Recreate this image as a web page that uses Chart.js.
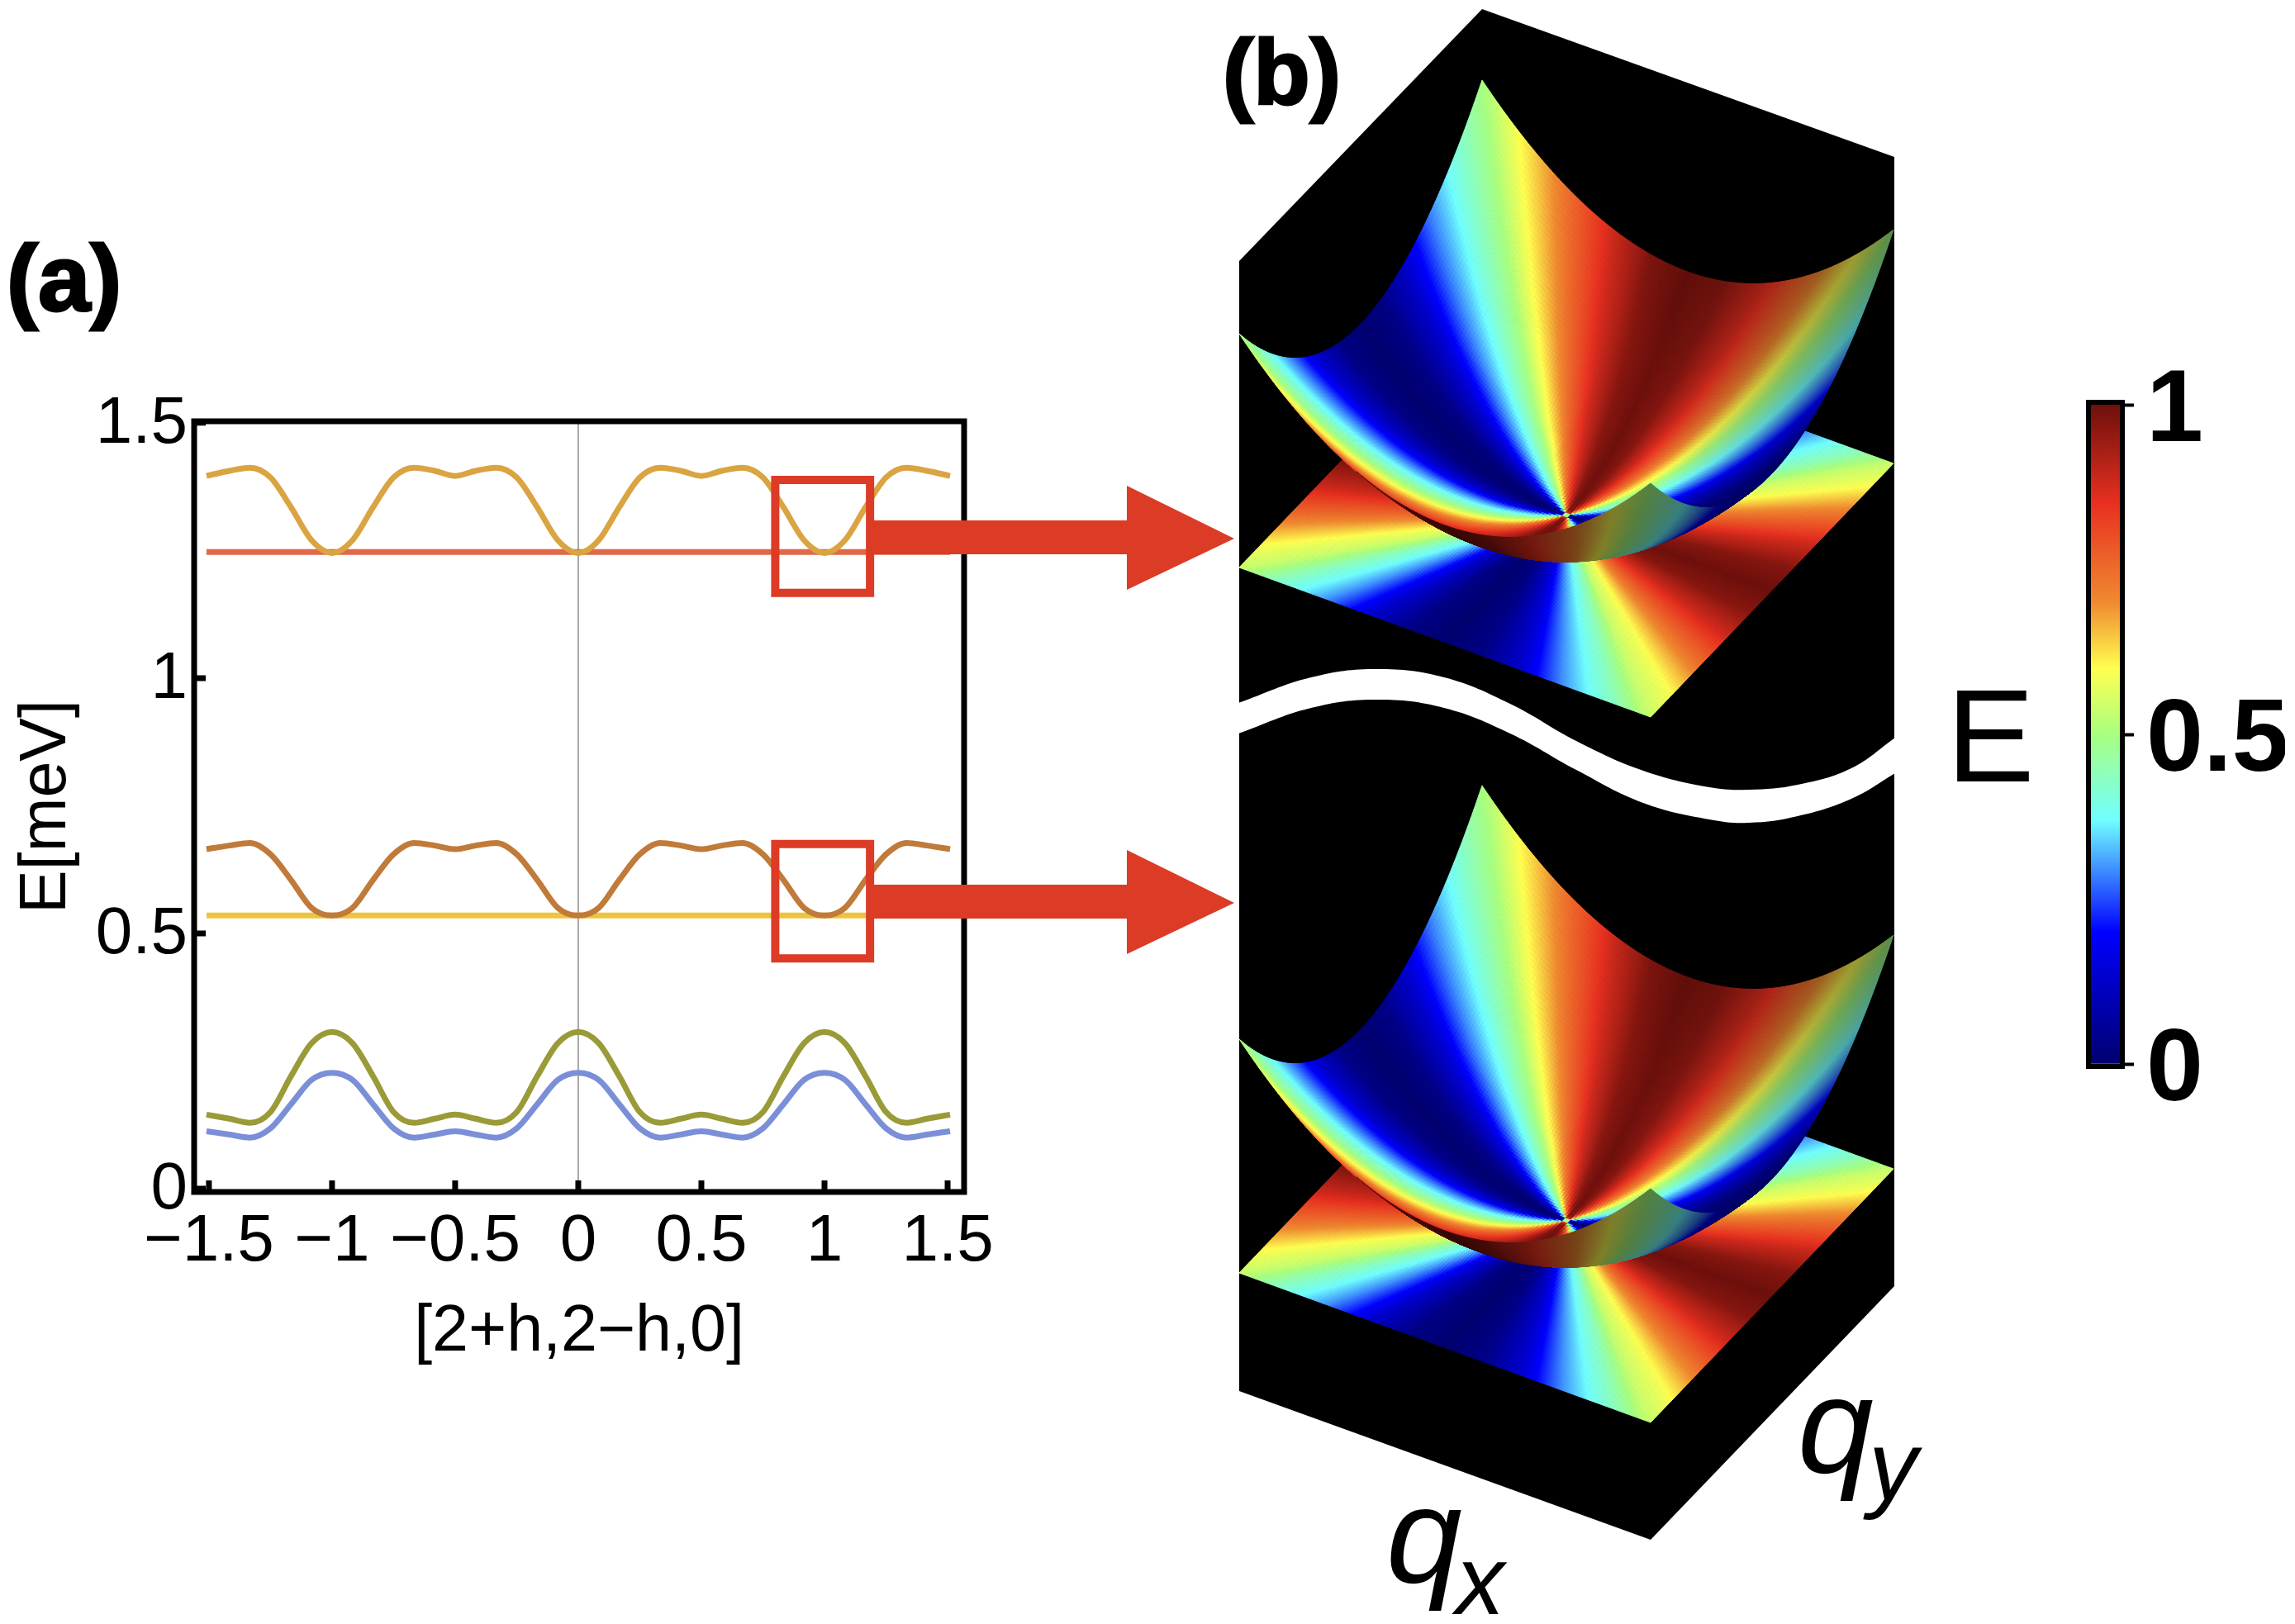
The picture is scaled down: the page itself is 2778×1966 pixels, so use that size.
<!DOCTYPE html>
<html>
<head>
<meta charset="utf-8">
<title>Band dispersion and colour map</title>
<script src="https://cdn.jsdelivr.net/npm/chart.js@4"></script>
<style>
  html, body { margin: 0; padding: 0; background: #fff; overflow: hidden; }
  canvas { position: absolute; left: 0; top: 0; }
</style>
</head>
<body>
<canvas id="panelA" width="2778" height="1966"></canvas>
<canvas id="colorBar" width="2778" height="1966"></canvas>
<canvas id="panelB" width="2778" height="1966"></canvas>
<script>
// panel (a) data
const hValues = [-1.51, -1.417, -1.333, -1.25, -1.167, -1.083, -1, -0.917, -0.833, -0.75, -0.667, -0.583, -0.5,
  -0.417, -0.333, -0.25, -0.167, -0.083, 0, 0.083, 0.167, 0.25, 0.333, 0.417, 0.5,
  0.583, 0.667, 0.75, 0.833, 0.917, 1, 1.083, 1.167, 1.25, 1.333, 1.417, 1.51];
const upperDispersive = [1.396, 1.406, 1.412, 1.393, 1.335, 1.27, 1.245, 1.27, 1.335, 1.393, 1.412, 1.406, 1.396,
  1.406, 1.412, 1.393, 1.335, 1.27, 1.245, 1.27, 1.335, 1.393, 1.412, 1.406, 1.396,
  1.406, 1.412, 1.393, 1.335, 1.27, 1.245, 1.27, 1.335, 1.393, 1.412, 1.406, 1.396];
const upperFlat = [1.247, 1.247, 1.247, 1.247, 1.247, 1.247, 1.247, 1.247, 1.247, 1.247, 1.247, 1.247, 1.247,
  1.247, 1.247, 1.247, 1.247, 1.247, 1.247, 1.247, 1.247, 1.247, 1.247, 1.247, 1.247,
  1.247, 1.247, 1.247, 1.247, 1.247, 1.247, 1.247, 1.247, 1.247, 1.247, 1.247, 1.247];
const middleDispersive = [0.665, 0.672, 0.677, 0.655, 0.605, 0.55, 0.535, 0.55, 0.605, 0.655, 0.677, 0.672, 0.665,
  0.672, 0.677, 0.655, 0.605, 0.55, 0.535, 0.55, 0.605, 0.655, 0.677, 0.672, 0.665,
  0.672, 0.677, 0.655, 0.605, 0.55, 0.535, 0.55, 0.605, 0.655, 0.677, 0.672, 0.665];
const middleFlat = [0.535, 0.535, 0.535, 0.535, 0.535, 0.535, 0.535, 0.535, 0.535, 0.535, 0.535, 0.535, 0.535,
  0.535, 0.535, 0.535, 0.535, 0.535, 0.535, 0.535, 0.535, 0.535, 0.535, 0.535, 0.535,
  0.535, 0.535, 0.535, 0.535, 0.535, 0.535, 0.535, 0.535, 0.535, 0.535, 0.535, 0.535];
const lowerOlive = [0.145, 0.137, 0.129, 0.15, 0.22, 0.285, 0.307, 0.285, 0.22, 0.15, 0.129, 0.137, 0.145,
  0.137, 0.129, 0.15, 0.22, 0.285, 0.307, 0.285, 0.22, 0.15, 0.129, 0.137, 0.145,
  0.137, 0.129, 0.15, 0.22, 0.285, 0.307, 0.285, 0.22, 0.15, 0.129, 0.137, 0.145];
const lowerBlue = [0.1125, 0.106, 0.1, 0.118, 0.165, 0.213, 0.227, 0.213, 0.165, 0.118, 0.1, 0.106, 0.1125,
  0.106, 0.1, 0.118, 0.165, 0.213, 0.227, 0.213, 0.165, 0.118, 0.1, 0.106, 0.1125,
  0.106, 0.1, 0.118, 0.165, 0.213, 0.227, 0.213, 0.165, 0.118, 0.1, 0.106, 0.1125];

const xTickValues = [-1.5, -1, -0.5, 0, 0.5, 1, 1.5];
const xTickLabels = ['\u22121.5', '\u22121', '\u22120.5', '0', '0.5', '1', '1.5'];
const yTickValues = [0, 0.5, 1, 1.5];
const yTickLabels = ['0', '0.5', '1', '1.5'];

// zoom boxes in panel (a), in h / E
const boxH = [0.80, 1.185];
const boxUpperE = [1.167, 1.388];
const boxLowerE = [0.451, 0.675];

// colour map
const mapLevels = [0, 0.2, 0.37, 0.5, 0.6, 0.7, 0.85, 1];
const mapColors = ['#000070', '#0000ff', '#70ffff', '#a8ff80', '#ffff50', '#f08a30', '#e83020', '#6e100c'];
const barTickValues = [0, 0.5, 1];
const barTickLabels = ['0', '0.5', '1'];

// E against the angle in the qx-qy plane (degrees from qx)
const angleDegrees = [0, 10, 20, 30, 40, 45, 50, 60, 70, 80, 90];
const planeEnergy = [1, 0.97, 0.88, 0.75, 0.59, 0.54, 0.44, 0.3, 0.13, 0.03, 0];
const surfaceEnergy = [0, 0.03, 0.13, 0.29, 0.43, 0.5, 0.59, 0.75, 0.88, 0.97, 1];

// panel (b) layout in figure units
const blockOutline = [[1500, 316], [1794, 11], [2293, 190], [2293, 1557], [1998, 1864], [1500, 1684]];
const blockCenterX = 1896;
const blockCenterY = [624, 1478];
const qxAxis = [249, 90.5];
const qyAxis = [147, -153.5];
const bowlHeight = 141.5;
const breakX = [1499, 1587, 1667, 1748, 1828, 1908, 1989, 2069, 2117, 2176, 2241, 2294];
const breakUpper = [851, 820, 810, 820, 852, 897, 933, 953, 956, 950, 930, 893];
const breakLower = [888, 857, 847, 857, 888, 932, 972, 992, 996, 988, 967, 936];
const arrowShape = [[1058, 630], [1364, 630], [1364, 588], [1494, 652], [1364, 714], [1364, 671], [1058, 671]];
const arrowOffsets = [0, 441];

const hexToRgb = (hex) => [1, 3, 5].map(i => parseInt(hex.slice(i, i + 2), 16));
const mapRgb = mapColors.map(hexToRgb);

// piecewise lookup between the values
const lookup = (xs, ys, x) => {
    let i = 0;
    while (i < xs.length - 2 && x > xs[i + 1]) i++;
    const t = (x - xs[i]) / (xs[i + 1] - xs[i]);
    return ys[i] + (ys[i + 1] - ys[i]) * t;
};

const colorFor = (value, shade) => {
    const rgb = [0, 1, 2].map(c => lookup(mapLevels, mapRgb.map(m => m[c]), value) * shade);
    return `rgb(${Math.round(rgb[0])},${Math.round(rgb[1])},${Math.round(rgb[2])})`;
};

const angleOf = (u, v) => Math.atan2(Math.abs(v), Math.abs(u)) * 180 / Math.PI;

// grid cells of the plane and of the bowl, coloured by angle
const GRID = 150;
const buildCells = (energy, isBowl) => {
    const cells = [];
    for (let i = 0; i < GRID; i++) {
        for (let j = 0; j < GRID; j++) {
            const u0 = -1 + 2 * i / GRID, u1 = -1 + 2 * (i + 1) / GRID;
            const v0 = -1 + 2 * j / GRID, v1 = -1 + 2 * (j + 1) / GRID;
            const u = (u0 + u1) / 2, v = (v0 + v1) / 2;
            let shade = 1;
            if (isBowl) {
                const rightSide = Math.min(1, Math.max(0, (u + v - 0.6) / 1.4));
                shade = 1 - 0.45 * rightSide;
                // outside of the bowl, seen from below the rim
                if (364 - 294 * u + 498 * v < 0) shade = 0.5;
            }
            cells.push({
                u0, u1, v0, v1,
                depth: 147 * u - 249 * v + 364 * (u * u + v * v),
                color: colorFor(lookup(angleDegrees, energy, angleOf(u, v)), shade)
            });
        }
    }
    if (isBowl) cells.sort((a, b) => a.depth - b.depth);
    return cells;
};
const planeCells = buildCells(planeEnergy, false);
const bowlCells = buildCells(surfaceEnergy, true);

const line = (label, data, color, width) => ({
    label,
    data: hValues.map((h, i) => ({ x: h, y: data[i] })),
    borderColor: color,
    borderWidth: width,
    pointRadius: 0,
    cubicInterpolationMode: 'monotone'
});

const boxDataset = (label, range) => ({
    label,
    data: [
        { x: boxH[0], y: range[0] }, { x: boxH[1], y: range[0] }, { x: boxH[1], y: range[1] },
        { x: boxH[0], y: range[1] }, { x: boxH[0], y: range[0] }, { x: boxH[1], y: range[0] }
    ],
    borderColor: '#dc3b26',
    borderWidth: 10,
    pointRadius: 0,
    tension: 0,
    borderJoinStyle: 'miter',
    clip: false
});

const frameAndTicks = {
    id: 'frameAndTicks',
    afterDatasetsDraw(chart) {
        const { ctx, chartArea: a, scales } = chart;
        ctx.save();
        ctx.strokeStyle = '#000';
        ctx.lineWidth = 7;
        ctx.strokeRect(a.left, a.top, a.right - a.left, a.bottom - a.top);
        ctx.lineWidth = 7;
        ctx.beginPath();
        xTickValues.forEach(v => {
            const x = scales.x.getPixelForValue(v);
            ctx.moveTo(x, a.bottom);
            ctx.lineTo(x, a.bottom - 14);
        });
        yTickValues.forEach(v => {
            const y = scales.y.getPixelForValue(v);
            ctx.moveTo(a.left, y);
            ctx.lineTo(a.left + 14, y);
        });
        ctx.stroke();
        ctx.restore();
    }
};

Chart.defaults.font.family = '"Liberation Sans", Arial, sans-serif';
Chart.defaults.color = '#000';

new Chart(document.getElementById('panelA'), {
    type: 'line',
    data: {
        datasets: [
            boxDataset('upper box', boxUpperE),
            boxDataset('lower box', boxLowerE),
            line('lower blue', lowerBlue, '#7b8fd8', 7),
            line('lower olive', lowerOlive, '#9a9a38', 7),
            line('middle dispersive', middleDispersive, '#c07a3a', 7),
            line('middle flat', middleFlat, '#efc33e', 7),
            line('upper dispersive', upperDispersive, '#d9a441', 7),
            line('upper flat', upperFlat, '#e0694a', 7),
            {
                label: 'h = 0',
                data: [{ x: 0, y: -0.0065 }, { x: 0, y: 1.503 }],
                borderColor: '#8a8a8a',
                borderWidth: 1.5,
                pointRadius: 0
            }
        ]
    },
    options: {
        responsive: false,
        animation: false,
        devicePixelRatio: 1,
        layout: { padding: { left: 10, top: 510, right: 1611, bottom: 305 } },
        plugins: { legend: { display: false }, tooltip: { enabled: false } },
        scales: {
            x: {
                type: 'linear',
                min: -1.56,
                max: 1.567,
                grid: { display: false },
                border: { display: false },
                afterFit: (scale) => { scale.height = 218; },
                afterBuildTicks: (scale) => { scale.ticks = xTickValues.map(value => ({ value })); },
                ticks: {
                    autoSkip: false,
                    maxRotation: 0,
                    padding: 5,
                    font: { size: 80 },
                    callback: (value) => xTickLabels[xTickValues.indexOf(value)]
                },
                title: { display: true, text: '[2+h,2\u2212h,0]', font: { size: 79 }, padding: 0 }
            },
            y: {
                type: 'linear',
                min: -0.0065,
                max: 1.503,
                grid: { display: false },
                border: { display: false },
                afterFit: (scale) => { scale.width = 225; },
                afterBuildTicks: (scale) => { scale.ticks = yTickValues.map(value => ({ value })); },
                ticks: {
                    autoSkip: false,
                    padding: 0,
                    labelOffset: 2,
                    font: { size: 80 },
                    callback: (value) => yTickLabels[yTickValues.indexOf(value)]
                },
                title: { display: true, text: 'E[meV]', font: { size: 79 }, padding: 0 }
            }
        }
    },
    plugins: [frameAndTicks]
});

// colour bar: one floating bar painted with the colour map
const barFrame = {
    id: 'barFrame',
    afterDatasetsDraw(chart) {
        const { ctx, chartArea: a } = chart;
        ctx.save();
        ctx.strokeStyle = '#000';
        ctx.lineWidth = 6;
        ctx.strokeRect(a.left - 3, a.top - 3, a.right - a.left + 6, a.bottom - a.top + 6);
        ctx.restore();
    }
};

new Chart(document.getElementById('colorBar'), {
    type: 'bar',
    data: {
        labels: ['E'],
        datasets: [{
            data: [[0, 1]],
            barPercentage: 1,
            categoryPercentage: 1,
            backgroundColor: (context) => {
                const { chartArea, scales, ctx } = context.chart;
                if (!chartArea) return '#000';
                const g = ctx.createLinearGradient(0, scales.y.getPixelForValue(0), 0, scales.y.getPixelForValue(1));
                mapLevels.forEach((level, i) => g.addColorStop(level, mapColors[i]));
                return g;
            }
        }]
    },
    options: {
        responsive: false,
        animation: false,
        devicePixelRatio: 1,
        layout: { padding: { left: 2531, top: 490, right: 12, bottom: 678 } },
        plugins: { legend: { display: false }, tooltip: { enabled: false } },
        scales: {
            x: { display: false },
            y: {
                position: 'right',
                min: 0,
                max: 1,
                border: { display: false },
                grid: { drawOnChartArea: false, drawTicks: true, tickLength: 17, tickWidth: 4, tickColor: '#000' },
                afterFit: (scale) => { scale.width = 200; },
                afterBuildTicks: (scale) => { scale.ticks = barTickValues.map(value => ({ value })); },
                ticks: {
                    padding: 15,
                    labelOffset: 10,
                    font: { size: 124, weight: 'bold' },
                    callback: (value) => barTickLabels[barTickValues.indexOf(value)]
                }
            }
        }
    },
    plugins: [barFrame]
});

// panel (b): the scales run in figure units, the break is a pair of line datasets filled between
const sketch = {
    id: 'sketch',
    beforeDatasetsDraw(chart) {
        const { ctx, scales } = chart;
        const px = (x) => scales.x.getPixelForValue(x);
        const py = (y) => scales.y.getPixelForValue(y);
        const poly = (points, color) => {
            ctx.beginPath();
            points.forEach((p, i) => i ? ctx.lineTo(px(p[0]), py(p[1])) : ctx.moveTo(px(p[0]), py(p[1])));
            ctx.closePath();
            ctx.fillStyle = color;
            ctx.fill();
        };
        poly(blockOutline, '#000');

        const at = (centerY, u, v, lift) => [
            blockCenterX + u * qxAxis[0] + v * qyAxis[0],
            centerY + u * qxAxis[1] + v * qyAxis[1] - lift * bowlHeight * (u * u + v * v)
        ];
        const drawCells = (cells, centerY, lift) => {
            ctx.lineWidth = 1;
            cells.forEach(c => {
                poly([
                    at(centerY, c.u0, c.v0, lift), at(centerY, c.u1, c.v0, lift),
                    at(centerY, c.u1, c.v1, lift), at(centerY, c.u0, c.v1, lift)
                ], c.color);
                ctx.strokeStyle = c.color;
                ctx.stroke();
            });
        };
        blockCenterY.forEach(centerY => {
            drawCells(planeCells, centerY, 0);
            drawCells(bowlCells, centerY, 1);
        });
    },
    afterDatasetsDraw(chart) {
        const { ctx, scales } = chart;
        const px = (x) => scales.x.getPixelForValue(x);
        const py = (y) => scales.y.getPixelForValue(y);
        arrowOffsets.forEach(dy => {
            ctx.beginPath();
            arrowShape.forEach((p, i) => i ? ctx.lineTo(px(p[0]), py(p[1] + dy)) : ctx.moveTo(px(p[0]), py(p[1] + dy)));
            ctx.closePath();
            ctx.fillStyle = '#dc3b26';
            ctx.fill();
        });
        const label = (text, x, y, font, heavy) => {
            ctx.font = font;
            ctx.fillStyle = '#000';
            ctx.textAlign = 'left';
            ctx.textBaseline = 'alphabetic';
            ctx.fillText(text, px(x), py(y));
            if (heavy) {
                ctx.strokeStyle = '#000';
                ctx.lineWidth = heavy;
                ctx.strokeText(text, px(x), py(y));
            }
        };
        const family = '"Liberation Sans", Arial, sans-serif';
        label('(a)', 8, 376, `bold 114px ${family}`, 3);
        label('(b)', 1480, 126, `bold 112px ${family}`, 3);
        label('E', 2356, 946, `160px ${family}`);
        label('q', 1678, 1916, `italic 165px ${family}`);
        label('x', 1762, 1954, `italic 118px ${family}`);
        label('q', 2176, 1783, `italic 165px ${family}`);
        label('y', 2262, 1815, `italic 118px ${family}`);
    }
};

new Chart(document.getElementById('panelB'), {
    type: 'line',
    data: {
        datasets: [
            {
                label: 'break top',
                data: breakX.map((x, i) => ({ x, y: breakUpper[i] })),
                borderWidth: 0,
                pointRadius: 0,
                tension: 0.4
            },
            {
                label: 'break bottom',
                data: breakX.map((x, i) => ({ x, y: breakLower[i] })),
                borderWidth: 0,
                pointRadius: 0,
                tension: 0.4,
                fill: '-1',
                backgroundColor: '#fff'
            }
        ]
    },
    options: {
        responsive: false,
        animation: false,
        devicePixelRatio: 1,
        layout: { padding: 0 },
        plugins: { legend: { display: false }, tooltip: { enabled: false } },
        scales: {
            x: { type: 'linear', min: 0, max: 2778, display: false },
            y: { type: 'linear', min: 0, max: 1966, reverse: true, display: false }
        }
    },
    plugins: [sketch]
});
</script>
</body>
</html>
